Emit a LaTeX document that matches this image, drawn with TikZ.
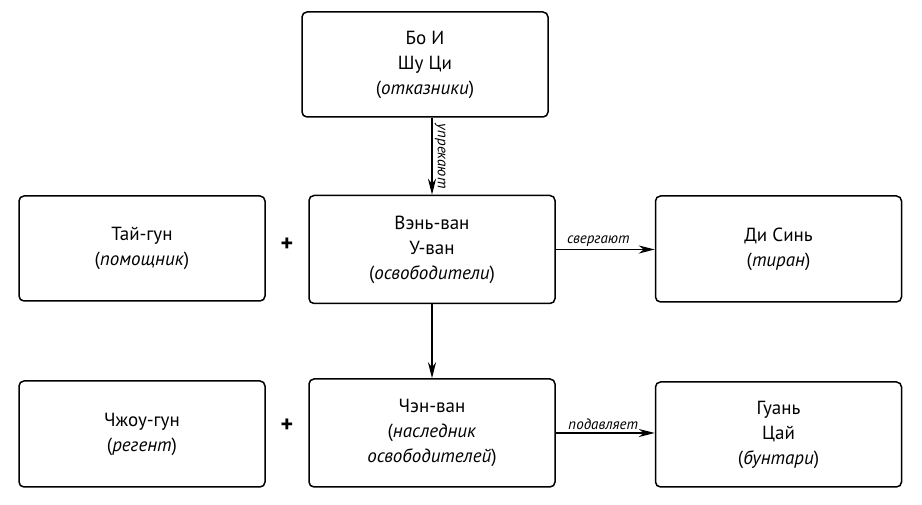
\documentclass[tikz,border=0pt]{standalone}
\usepackage{fontspec}
\setmainfont{PT Sans}
\usetikzlibrary{arrows.meta}

\begin{document}
\begin{tikzpicture}[x=1pt,y=1pt,
        box/.style={draw, line width=1.5pt, rounded corners=5pt, minimum width=246pt, align=center, font=\fontsize{19}{25}\selectfont},
        arr/.style={line width=1.8pt, -{Stealth[length=16pt,width=8pt,inset=5pt]}},
        lbl/.style={font=\fontsize{15}{16}\selectfont\itshape, inner sep=2pt}]
                \useasboundingbox (0,0) rectangle (922,505);

                \node[box, minimum height=105pt] (boi) at (425,440.5) {Бо И\\Шу Ци\\(\textit{отказники})};
                \node[box, minimum height=105pt] (tai) at (142,256.5) {Тай-гун\\(\textit{помощник})};
                \node[box, minimum height=108pt] (wen) at (432,255.5) {Вэнь-ван\\У-ван\\(\textit{освободители})};
                \node[box, minimum height=106pt] (di) at (778.5,256) {Ди Синь\\(\textit{тиран})};
                \node[box, minimum height=106pt] (zhou) at (142,71) {Чжоу-гун\\(\textit{регент})};
                \node[box, minimum height=108pt] (chen) at (432,72) {Чэн-ван\\(\textit{наследник}\\\textit{освободителей})};
                \node[box, minimum height=105pt] (guan) at (778.5,70.5) {Гуань\\Цай\\(\textit{бунтари})};

                \node[font=\fontsize{24}{24}\selectfont\bfseries] (plusA) at (287,260) {+};
                \node[font=\fontsize{24}{24}\selectfont\bfseries] (plusB) at (287,79) {+};

                \draw[arr] (wen.north |- boi.south) -- (wen.north) node[lbl, midway, above, sloped] {упрекают};
                \draw[arr] (wen.east) -- (di.west |- wen.east) node[lbl, pos=0.43, above] {свергают};
                \draw[arr] (wen.south) -- (chen.north);
                \draw[arr] (chen.east) -- (guan.west |- chen.east) node[lbl, pos=0.48, above] {подавляет};
            \end{tikzpicture}
\end{document}
